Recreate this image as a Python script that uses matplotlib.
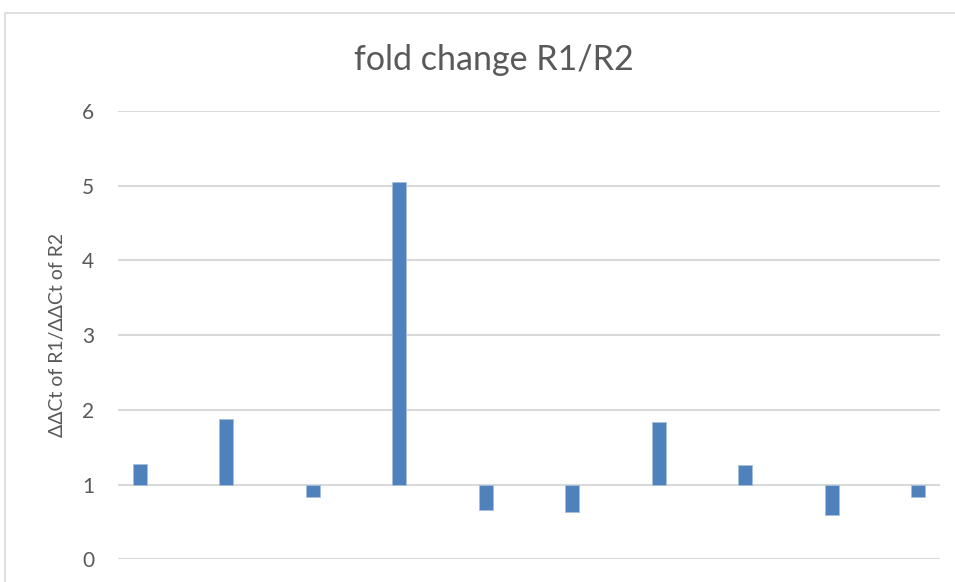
import matplotlib
matplotlib.use("Agg")
import matplotlib.pyplot as plt
import numpy as np
from matplotlib.patches import Rectangle

# values (bars start at the 1.0 baseline)
samples = ["S1", "S2", "S3", "S4", "S5", "S6", "S7", "S8", "S9", "S10"]
fold_change = [1.27, 1.88, 0.84, 5.05, 0.665, 0.63, 1.84, 1.26, 0.59, 0.84]
y_ticks = [0, 1, 2, 3, 4, 5, 6]

BAR_COLOR = "#4f81bd"
GRID_COLOR = "#d9d9d9"
TEXT_COLOR = "#595959"

plt.rcParams["font.family"] = ["Lato", "DejaVu Sans"]

fig = plt.figure(figsize=(9.55, 5.82), dpi=100)
fig.patch.set_facecolor("white")

# chart area frame, runs off the right/bottom of the image
fig.patches.append(Rectangle((5 / 955, -0.1), 1.1, 1 - 13 / 582 + 0.1,
                             transform=fig.transFigure, fill=False,
                             edgecolor=GRID_COLOR, linewidth=1.2))

ax = fig.add_axes([118 / 955, 22.7 / 582, (940 - 118) / 955, (559.3 - 111) / 582])

x = np.arange(len(samples))
heights = np.array(fold_change) - 1
ax.bar(x, heights, bottom=1, width=0.16, color=BAR_COLOR,
       edgecolor="#a7c0de", linewidth=0.6, zorder=3)

ax.set_xlim(-0.25, len(samples) - 0.75)
ax.set_ylim(0, 6)
ax.set_yticks(y_ticks)
ax.set_xticks([])
ax.yaxis.grid(True, color=GRID_COLOR, linewidth=1.5, zorder=0)
ax.set_axisbelow(True)
for side in ax.spines.values():
    side.set_visible(False)
ax.tick_params(axis="y", length=0, pad=17, labelsize=15, labelcolor=TEXT_COLOR)

ax.set_ylabel("ΔΔCt of R1/ΔΔCt of R2", fontsize=14, color=TEXT_COLOR, labelpad=12)
fig.text(494 / 955, 1 - 60 / 582, "fold change R1/R2", ha="center", va="center",
         fontsize=24.5, color=TEXT_COLOR)

fig.savefig("out.png", dpi=100)
